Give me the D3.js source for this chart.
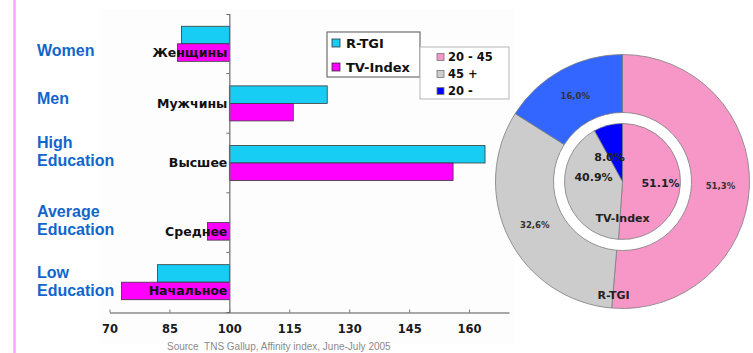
<!DOCTYPE html>
<html>
<head>
<meta charset="utf-8">
<script src="https://cdn.jsdelivr.net/npm/d3@7"></script>
<style>
  html, body { margin: 0; padding: 0; background: #fff; }
  svg { display: block; }
</style>
</head>
<body>
<svg id="chart" width="753" height="353"></svg>
<script>
// ---- data ----
const categories = ["Женщины", "Мужчины", "Высшее", "Среднее", "Начальное"];
const categoryNotes = [["Women"], ["Men"], ["High", "Education"], ["Average", "Education"], ["Low", "Education"]];
const barSeries = ["R-TGI", "TV-Index"];
const rtgiValues = [88, 124.5, 164, 100, 82];
const tvIndexValues = [87, 116, 156, 94.5, 73];
const xTicks = [70, 85, 100, 115, 130, 145, 160];
const baseline = 100;

const ageGroups = ["20 - 45", "45 +", "20 -"];
const rtgiShares = [51.3, 32.6, 16.0];
const rtgiShareLabels = ["51,3%", "32,6%", "16,0%"];
const tvShares = [51.1, 40.9, 8.0];
const tvShareLabels = ["51.1%", "40.9%", "8.0%"];
const sourceNote = "Source  TNS Gallup, Affinity index, June-July 2005";

// ---- styles & layout ----
const barColors = { "R-TGI": "#17cdf3", "TV-Index": "#ff00ff" };
const ageColorsOuter = ["#f797c8", "#cccccc", "#3366ff"];
const ageColorsInner = ["#f797c8", "#cccccc", "#0000ff"];
const noteColor = "#1166cc";
const boldFont = "'DejaVu Sans', Verdana, sans-serif";
const noteTop = [50, 98, 142, 211, 272];   // first-line centres of the English notes

const svg = d3.select("#chart");

// left accent line
svg.append("line").attr("x1", 14.5).attr("x2", 14.5).attr("y1", 0).attr("y2", 353)
  .attr("stroke", "#f7a6f7").attr("stroke-width", 2.5);

// faint plot panel
svg.append("rect").attr("x", 100).attr("y", 9).attr("width", 415).attr("height", 335)
  .attr("fill", "#fdfdfd");

// ---- bar chart ----
const x = d3.scaleLinear().domain([70, 170]).range([109.5, 509]);
const y = d3.scaleBand().domain(categories).range([14, 312]).paddingInner(0).paddingOuter(0);
const yInner = d3.scaleBand().domain(barSeries).range([0, y.bandwidth()]).paddingInner(0).paddingOuter(0.7);

const rows = categories.map((c, i) => ({
  category: c, notes: categoryNotes[i], index: i,
  values: [{ s: "R-TGI", v: rtgiValues[i] }, { s: "TV-Index", v: tvIndexValues[i] }]
}));

// bars
const g = svg.append("g");
g.selectAll("g.row").data(rows).join("g").attr("class", "row")
  .attr("transform", d => `translate(0,${y(d.category)})`)
  .selectAll("rect").data(d => d.values.filter(e => e.v !== baseline)).join("rect")
  .attr("x", e => Math.min(x(baseline), x(e.v)))
  .attr("width", e => Math.abs(x(e.v) - x(baseline)))
  .attr("y", e => yInner(e.s))
  .attr("height", yInner.bandwidth())
  .attr("fill", e => barColors[e.s])
  .attr("stroke", "#3a3a3a").attr("stroke-width", 0.8);

// x axis
const xAxis = d3.axisBottom(x).tickValues(xTicks).tickSizeInner(-3).tickSizeOuter(0).tickPadding(12);
const gx = svg.append("g").attr("transform", "translate(0,312.5)").call(xAxis);
gx.select(".domain").attr("stroke", "#8a8a8a").attr("stroke-width", 1.6);
gx.selectAll(".tick line").attr("stroke", "#777");
gx.selectAll(".tick text").attr("font-family", boldFont).attr("font-weight", "bold")
  .attr("font-size", "11.5px").attr("fill", "#1a1a1a");

// y axis at baseline
const yAxis = d3.axisLeft(y).tickValues([]).tickSizeOuter(3);
const gy = svg.append("g").attr("transform", `translate(${x(baseline)},0)`).call(yAxis);
gy.select(".domain").attr("stroke", "#6a6a6a").attr("stroke-width", 1.2);
// separators between categories
gy.selectAll("line.sep").data(categories.slice(1)).join("line").attr("class", "sep")
  .attr("x1", -3).attr("x2", 0)
  .attr("y1", d => y(d)).attr("y2", d => y(d))
  .attr("stroke", "#6a6a6a");

// category labels (Russian) beside the axis
svg.selectAll("text.cat").data(rows).join("text").attr("class", "cat")
  .attr("x", x(baseline) - 2)
  .attr("y", d => {
    const leftSide = d.values.some(e => e.v < baseline) && d.values.every(e => e.v <= baseline);
    return leftSide ? y(d.category) + yInner("TV-Index") + yInner.bandwidth() / 2
                    : y(d.category) + y.bandwidth() / 2;
  })
  .attr("dy", "0.35em").attr("text-anchor", "end")
  .attr("font-family", boldFont).attr("font-weight", "bold").attr("font-size", "12.5px")
  .attr("fill", "#111").text(d => d.category);

// English notes on the left
const notes = svg.selectAll("text.note").data(rows).join("text").attr("class", "note")
  .attr("font-family", "'Liberation Sans', Arial, sans-serif").attr("font-weight", "bold")
  .attr("font-size", "16px").attr("fill", noteColor)
  .attr("transform", d => `translate(37,${noteTop[d.index]})`);
notes.selectAll("tspan").data(d => d.notes).join("tspan")
  .attr("x", 0).attr("dy", (d, i) => i === 0 ? "0.35em" : "18.5px").text(d => d);

// bar legend
const leg1 = svg.append("g").attr("transform", "translate(327,32)");
leg1.append("rect").attr("width", 93).attr("height", 45).attr("fill", "#fff")
  .attr("stroke", "#707070").attr("stroke-width", 1.2);
barSeries.forEach((s, i) => {
  const row = leg1.append("g").attr("transform", `translate(5,${11 + i * 24})`);
  row.append("rect").attr("x", 0).attr("y", -4).attr("width", 8).attr("height", 8)
    .attr("fill", barColors[s]).attr("stroke", "#333").attr("stroke-width", 0.8);
  row.append("text").attr("x", 14).attr("dy", "0.36em")
    .attr("font-family", boldFont).attr("font-weight", "bold").attr("font-size", "13px")
    .attr("fill", "#111").text(s);
});

// age legend
const leg2 = svg.append("g").attr("transform", "translate(420,47)");
leg2.append("rect").attr("width", 89).attr("height", 52).attr("fill", "#fff")
  .attr("stroke", "#b5b5b5").attr("stroke-width", 1);
ageGroups.forEach((a, i) => {
  const row = leg2.append("g").attr("transform", `translate(17,${10 + i * 17})`);
  row.append("rect").attr("x", 0).attr("y", -3.5).attr("width", 7).attr("height", 7)
    .attr("fill", ageColorsInner[i]).attr("stroke", "#777").attr("stroke-width", 0.8);
  row.append("text").attr("x", 11).attr("dy", "0.36em")
    .attr("font-family", boldFont).attr("font-weight", "bold").attr("font-size", "11.5px")
    .attr("fill", "#111").text(a);
});

// ---- doughnut ----
const cx = 622.5, cy = 181.5;
const pg = svg.append("g").attr("transform", `translate(${cx},${cy})`);
const pie = d3.pie().sort(null).value(d => d);

const outerArc = d3.arc().innerRadius(69).outerRadius(127);
const innerArc = d3.arc().innerRadius(0).outerRadius(58);

const outerData = pie(rtgiShares);
const innerData = pie(tvShares);

pg.selectAll("path.outer").data(outerData).join("path").attr("class", "outer")
  .attr("d", outerArc).attr("fill", (d, i) => ageColorsOuter[i])
  .attr("stroke", "#7d7d7d").attr("stroke-width", 0.8);
pg.selectAll("path.inner").data(innerData).join("path").attr("class", "inner")
  .attr("d", innerArc).attr("fill", (d, i) => ageColorsInner[i])
  .attr("stroke", "#7d7d7d").attr("stroke-width", 0.8);

// outer labels at the ring centroid
pg.selectAll("text.olab").data(outerData).join("text").attr("class", "olab")
  .attr("transform", d => `translate(${outerArc.centroid(d)})`)
  .attr("text-anchor", "middle").attr("dy", "0.35em")
  .attr("font-family", boldFont).attr("font-weight", "bold").attr("font-size", "8.5px")
  .attr("fill", "#333").text((d, i) => rtgiShareLabels[i]);

// inner labels; the two small slices share the upper-left space near the centre
const innerLabelArc = d3.arc().innerRadius(38).outerRadius(38);
pg.selectAll("text.ilab").data(innerData).join("text").attr("class", "ilab")
  .attr("transform", (d, i) => {
    if (i === 1) return "translate(-29,-4)";
    if (i === 2) return "translate(-13,-24)";
    return `translate(${innerLabelArc.centroid(d)})`;
  })
  .attr("text-anchor", "middle").attr("dy", "0.35em")
  .attr("font-family", boldFont).attr("font-weight", "bold").attr("font-size", "11px")
  .attr("fill", "#222").text((d, i) => tvShareLabels[i]);

// ring names
pg.append("text").attr("x", 0).attr("y", 37).attr("dy", "0.35em").attr("text-anchor", "middle")
  .attr("font-family", boldFont).attr("font-weight", "bold").attr("font-size", "11px")
  .attr("fill", "#222").text("TV-Index");
pg.append("text").attr("x", -9).attr("y", 114).attr("dy", "0.35em").attr("text-anchor", "middle")
  .attr("font-family", boldFont).attr("font-weight", "bold").attr("font-size", "11px")
  .attr("fill", "#222").text("R-TGI");

// source note (keeps its double space)
svg.append("text").attr("x", 167).attr("y", 350)
  .style("white-space", "pre")
  .attr("font-family", "'Liberation Sans', Arial, sans-serif").attr("font-size", "10px")
  .attr("fill", "#8a8a8a").text(sourceNote);
</script>
</body>
</html>
